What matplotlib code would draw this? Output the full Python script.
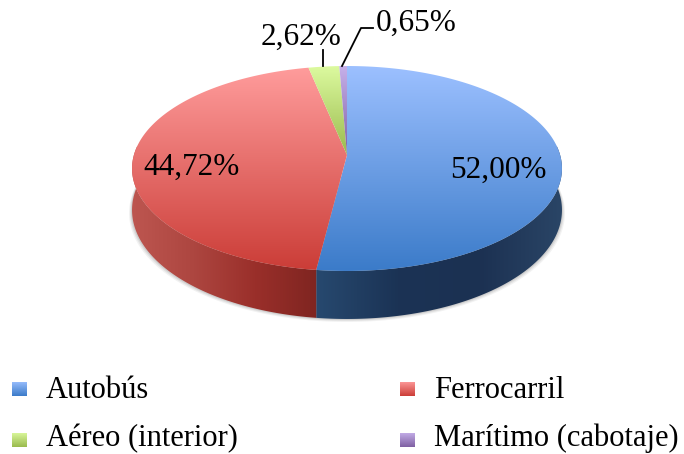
import numpy as np
import matplotlib
matplotlib.use("Agg")
import matplotlib.pyplot as plt
from matplotlib.colors import LinearSegmentedColormap
from matplotlib.patches import Polygon

# data
categories = ["Autobús", "Ferrocarril", "Aéreo (interior)", "Marítimo (cabotaje)"]
shares = [52.00, 44.72, 2.62, 0.65]
share_labels = ["52,00%", "44,72%", "2,62%", "0,65%"]
top_light = ["#9cc0ff", "#ff9c9c", "#dcfa9f", "#c6b0ea"]
top_dark = ["#3b7bc9", "#cb3d37", "#9aba4d", "#7f60a2"]

W, H = 684, 454
plt.rcParams["font.family"] = ["Liberation Serif", "DejaVu Serif"]

fig = plt.figure(figsize=(W / 100, H / 100), dpi=100)
ax = fig.add_axes([0, 0, 1, 1])

# perspective projection of the disc, t is clockwise from 12 o'clock
hub_x, hub_y = 347, 155
A, B, K = 100.7, 213.1, 0.1317


def rim(t, lower=False):
    u, v = np.sin(t), np.cos(t)
    x = hub_x + B * u / (1 + K * v)
    y = -A * v / (1 + K * v)
    if lower:
        return x, hub_y + 40.7 + 1.063 * y
    return x, hub_y + y


def grad_fill(poly, stops, horizontal=False):
    pts = poly.get_xy()
    cmap = LinearSegmentedColormap.from_list("g", stops)
    g = np.linspace(0, 1, 256)
    g = g.reshape(1, -1) if horizontal else g.reshape(-1, 1)
    im = ax.imshow(g, cmap=cmap, aspect="auto",
                   extent=(pts[:, 0].min(), pts[:, 0].max(), pts[:, 1].max(), pts[:, 1].min()),
                   zorder=poly.get_zorder())
    poly.set_facecolor("none")
    poly.set_edgecolor("none")
    ax.add_patch(poly)
    im.set_clip_path(poly)


edges = np.concatenate([[0], np.cumsum(shares)]) / np.sum(shares) * 2 * np.pi

# soft shadow under the body
ts = np.linspace(np.pi * 0.45, np.pi * 1.55, 200)
sx, sy = rim(ts, lower=True)
for grow, alpha in [(3.0, 0.10), (2.0, 0.14), (1.0, 0.2)]:
    ax.add_patch(Polygon(np.c_[hub_x + (sx - hub_x) * (1 + grow / 215), sy + grow],
                         closed=True, fc="#808080", ec="none", alpha=alpha, zorder=1))

# side walls, colours run left to right
side_stops = [["#27496f", "#1b3355", "#1c3152", "#2a4566"],
              ["#bd5650", "#ad4640", "#9a2f2a", "#7f2521"]]
side_ranges = [(np.pi * 0.47, edges[1]), (edges[1], np.pi * 1.53)]
for k in range(2):
    t = np.linspace(side_ranges[k][0], side_ranges[k][1], 200)
    x0, y0 = rim(t)
    x1, y1 = rim(t, lower=True)
    poly = Polygon(np.r_[np.c_[x0, y0], np.c_[x1, y1][::-1]], closed=True, zorder=2)
    grad_fill(poly, side_stops[k], horizontal=True)

# top face
for i in range(len(shares)):
    t = np.linspace(edges[i], edges[i + 1], 200)
    x, y = rim(t)
    poly = Polygon(np.r_[[[hub_x, hub_y]], np.c_[x, y]], closed=True, zorder=3 + i)
    grad_fill(poly, [top_light[i], top_dark[i]])

# labels and leaders
label_pos = [(498, 178), (192, 175), (301, 45), (416, 31)]
for s, (lx, ly) in zip(share_labels, label_pos):
    ax.text(lx, ly, s, ha="center", va="baseline", fontsize=22.5, color="black", zorder=10)
ax.plot([323, 323], [50, 66], color="black", lw=1.3, zorder=10)
ax.plot([342, 361, 373], [66, 28, 28], color="black", lw=1.3, zorder=10)

# legend
legend_x = [12, 400, 12, 400]
legend_y = [389, 389, 440, 440]
text_y = [398, 398, 446, 446]
for i, name in enumerate(categories):
    lx, ly = legend_x[i], legend_y[i]
    sq = Polygon([[lx, ly - 7.5], [lx + 15, ly - 7.5], [lx + 15, ly + 7.5], [lx, ly + 7.5]],
                 closed=True, zorder=5)
    grad_fill(sq, [top_light[i], top_dark[i]])
    ax.text(lx + 34, text_y[i], name, ha="left", va="baseline", fontsize=22, color="black")

ax.set_xlim(0, W)
ax.set_ylim(H, 0)
ax.axis("off")
fig.savefig("out.png", dpi=100)
